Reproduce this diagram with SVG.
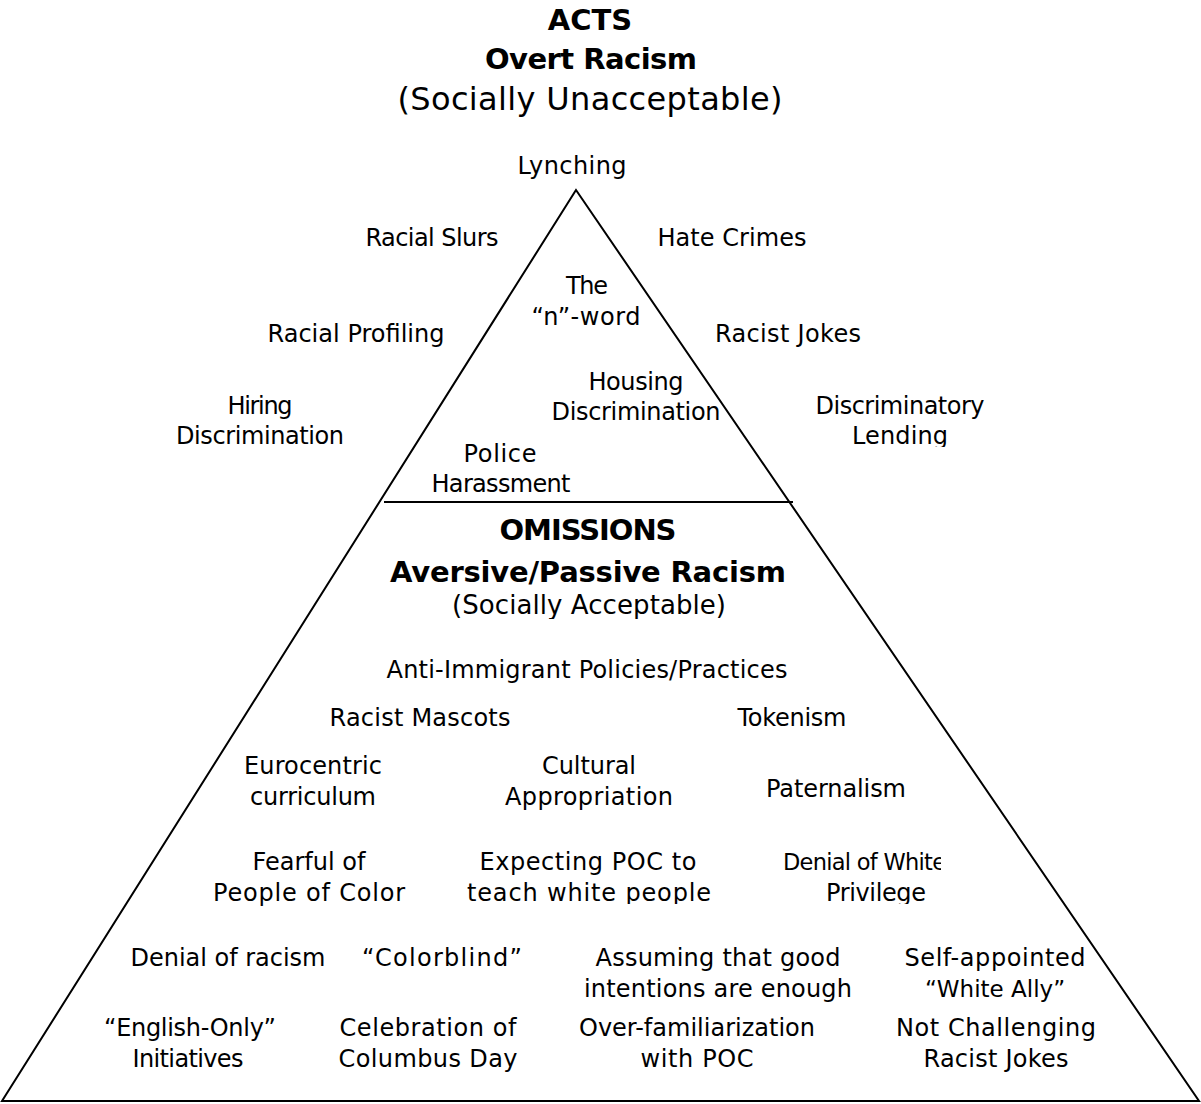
<svg xmlns="http://www.w3.org/2000/svg" width="1201" height="1104" viewBox="0 0 1201 1104">
<style>
text{font-family:"DejaVu Sans","Liberation Sans",sans-serif;fill:#000;text-anchor:middle}
.t{font-size:24px}
.h{font-size:29px;font-weight:bold}
.s{font-size:32px}
.ln{stroke:#000;fill:none}
</style>
<defs>
<clipPath id="c1"><rect x="0" y="0" width="1201" height="447"/></clipPath>
<clipPath id="c2"><rect x="0" y="0" width="1201" height="619"/></clipPath>
<clipPath id="c3"><rect x="0" y="0" width="1201" height="904"/></clipPath>
<clipPath id="c4"><rect x="0" y="0" width="941" height="1104"/></clipPath>
</defs>
<rect width="1201" height="1104" fill="#fff"/>
<g id="connectors">
<polygon class="ln" stroke-width="2" points="576,190 2,1101 1199,1101"/>
<line class="ln" stroke-width="2" x1="384" y1="502" x2="793" y2="502"/>
</g>
<g id="title-acts">
<text class="h" x="590" y="30">ACTS</text>
<text class="h" x="591" y="69" textLength="212">Overt Racism</text>
<text class="s" x="590" y="110" textLength="385">(Socially Unacceptable)</text>
</g>
<g id="acts-items">
<g id="lynching"><text class="t" x="572" y="174" textLength="109">Lynching</text></g>
<g id="racial-slurs"><text class="t" x="432" y="246" textLength="133">Racial Slurs</text></g>
<g id="hate-crimes"><text class="t" x="732" y="246" textLength="149">Hate Crimes</text></g>
<g id="n-word"><text class="t" x="587" y="294" textLength="42">The</text><text class="t" x="586" y="325" textLength="109">“n”-word</text></g>
<g id="racial-profiling"><text class="t" x="356" y="342" textLength="177">Racial Profiling</text></g>
<g id="racist-jokes"><text class="t" x="788" y="342" textLength="146">Racist Jokes</text></g>
<g id="housing"><text class="t" x="636" y="390" textLength="95">Housing</text><text class="t" x="636" y="420" textLength="169">Discrimination</text></g>
<g id="hiring"><text class="t" x="260" y="414" textLength="65">Hiring</text><text class="t" x="260" y="444" textLength="168">Discrimination</text></g>
<g id="lending" clip-path="url(#c1)"><text class="t" x="900" y="414" textLength="169">Discriminatory</text><text class="t" x="900" y="444" textLength="96">Lending</text></g>
<g id="police"><text class="t" x="500" y="462" textLength="73">Police</text><text class="t" x="501" y="492" textLength="139">Harassment</text></g>
</g>
<g id="title-omissions">
<text class="h" x="588" y="540" textLength="177">OMISSIONS</text>
<text class="h" x="588" y="582" textLength="396">Aversive/Passive Racism</text>
<g clip-path="url(#c2)"><text class="t" x="589" y="614" style="font-size:26px" textLength="274">(Socially Acceptable)</text></g>
</g>
<g id="omission-items">
<g id="anti-immigrant"><text class="t" x="587" y="678" textLength="401">Anti-Immigrant Policies/Practices</text></g>
<g id="racist-mascots"><text class="t" x="420" y="726" textLength="181">Racist Mascots</text></g>
<g id="tokenism"><text class="t" x="792" y="726" textLength="109">Tokenism</text></g>
<g id="eurocentric"><text class="t" x="313" y="774" textLength="138">Eurocentric</text><text class="t" x="313" y="805" textLength="126">curriculum</text></g>
<g id="cultural"><text class="t" x="589" y="774" textLength="94">Cultural</text><text class="t" x="589" y="805" textLength="168">Appropriation</text></g>
<g id="paternalism"><text class="t" x="836" y="797" textLength="140">Paternalism</text></g>
<g id="fearful"><text class="t" x="309" y="870" textLength="113">Fearful of</text><text class="t" x="309" y="901" textLength="192">People of Color</text></g>
<g id="expecting" clip-path="url(#c3)"><text class="t" x="588" y="870" textLength="217">Expecting POC to</text><text class="t" x="589" y="901" textLength="244">teach white people</text></g>
<g id="denial-white" clip-path="url(#c3)"><g clip-path="url(#c4)"><text class="t" x="783" y="870" style="text-anchor:start;font-size:22.5px" textLength="163">Denial of White</text></g><text class="t" x="876" y="901" textLength="100">Privilege</text></g>
<g id="denial-racism"><text class="t" x="228" y="966" textLength="195">Denial of racism</text></g>
<g id="colorblind"><text class="t" x="442" y="966" textLength="160">“Colorblind”</text></g>
<g id="assuming"><text class="t" x="718" y="966" textLength="245">Assuming that good</text><text class="t" x="718" y="997" textLength="268">intentions are enough</text></g>
<g id="self-appointed"><text class="t" x="995" y="966" textLength="181">Self-appointed</text><text class="t" x="995" y="997" style="font-size:23px">“White Ally”</text></g>
<g id="english-only"><text class="t" x="190" y="1036" textLength="172">“English-Only”</text><text class="t" x="188" y="1067" textLength="111">Initiatives</text></g>
<g id="columbus"><text class="t" x="428" y="1036" textLength="177">Celebration of</text><text class="t" x="428" y="1067" textLength="179">Columbus Day</text></g>
<g id="over-familiarization"><text class="t" x="697" y="1036" textLength="236">Over-familiarization</text><text class="t" x="697" y="1067" textLength="113">with POC</text></g>
<g id="not-challenging"><text class="t" x="996" y="1036" textLength="200">Not Challenging</text><text class="t" x="996" y="1067" textLength="145">Racist Jokes</text></g>
</g>
</svg>
